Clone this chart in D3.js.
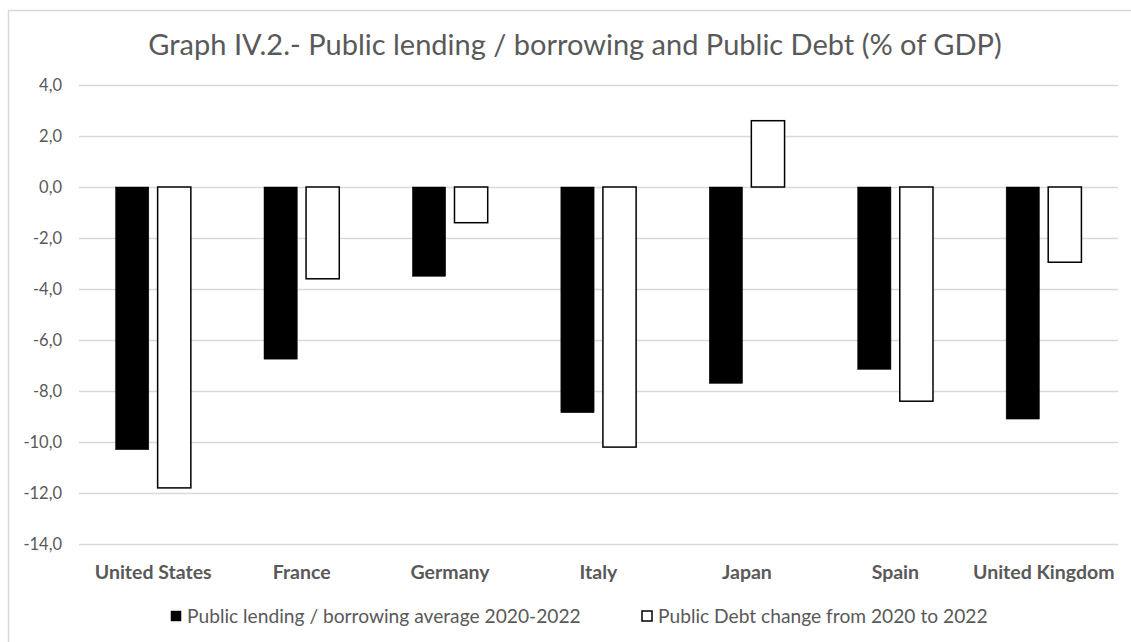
<!DOCTYPE html>
<html>
<head>
<meta charset="utf-8">
<script src="https://cdn.jsdelivr.net/npm/d3@7"></script>
<style>
  body { margin: 0; background: #fff; }
  svg { display: block; }
</style>
</head>
<body>
<svg width="1131" height="642"></svg>
<script>
// data
const countries = ["United States", "France", "Germany", "Italy", "Japan", "Spain", "United Kingdom"];
const seriesNames = ["Public lending / borrowing average 2020-2022", "Public Debt change from 2020 to 2022"];
const lending = [-10.3, -6.75, -3.5, -8.85, -7.7, -7.15, -9.1];
const debtChange = [-11.8, -3.6, -1.4, -10.2, 2.6, -8.4, -2.95];
const yTicks = [4, 2, 0, -2, -4, -6, -8, -10, -12, -14];

const svg = d3.select("svg");
const width = 1131, height = 642;
const grey = "#595959", gridCol = "#d9d9d9";

// outer frame of the chart area
svg.append("rect")
  .attr("x", 8.5).attr("y", 10.5)
  .attr("width", width).attr("height", height)
  .attr("fill", "none").attr("stroke", gridCol).attr("stroke-width", 1.5);

svg.append("text")
  .attr("x", 575).attr("y", 55)
  .attr("text-anchor", "middle")
  .attr("font-family", "Lato, 'Open Sans', sans-serif")
  .attr("font-size", "29px")
  .attr("fill", grey)
  .text("Graph IV.2.- Public lending / borrowing and Public Debt (% of GDP)");

const x = d3.scaleBand().domain(countries).range([79, 1118]).padding(0);
const xs = d3.scaleBand().domain(seriesNames).range([0, x.bandwidth()])
  .paddingInner(0.21).paddingOuter(0.87);
const y = d3.scaleLinear().domain([-14, 4]).range([544, 85]);

// gridlines + y labels
const yAxis = svg.append("g")
  .attr("transform", "translate(79,0)")
  .call(d3.axisLeft(y).tickValues(yTicks).tickSize(-(1118 - 79)).tickPadding(17)
    .tickFormat(d => d3.format(".1f")(d).replace(".", ",").replace("\u2212", "-")));
yAxis.select(".domain").remove();
yAxis.selectAll("line").attr("stroke", gridCol).attr("stroke-width", 1.5);
yAxis.selectAll("text")
  .attr("fill", grey)
  .attr("font-family", "Lato, sans-serif")
  .attr("font-size", "16.5px");

const rows = countries.map((c, i) => ({ country: c, vals: [lending[i], debtChange[i]] }));

const groups = svg.append("g").selectAll("g")
  .data(rows).enter().append("g")
  .attr("transform", d => "translate(" + x(d.country) + ",0)");

groups.selectAll("rect")
  .data(d => d.vals.map((v, j) => ({ key: seriesNames[j], v: v, j: j })))
  .enter().append("rect")
  .attr("x", d => xs(d.key))
  .attr("width", xs.bandwidth())
  .attr("y", d => y(Math.max(0, d.v)))
  .attr("height", d => Math.abs(y(d.v) - y(0)))
  .attr("fill", d => d.j === 0 ? "#000" : "#fff")
  .attr("stroke", "#000")
  .attr("stroke-width", d => d.j === 0 ? 0.5 : 1.5);

// category labels
svg.append("g").selectAll("text")
  .data(countries).enter().append("text")
  .attr("x", d => x(d) + x.bandwidth() / 2)
  .attr("y", 579)
  .attr("text-anchor", "middle")
  .attr("font-family", "Lato, sans-serif")
  .attr("font-weight", "bold")
  .attr("font-size", "19.5px")
  .attr("fill", grey)
  .text(d => d);

// legend
const legendX = [171, 642];
const legend = svg.append("g").selectAll("g")
  .data(seriesNames).enter().append("g")
  .attr("transform", (d, i) => "translate(" + legendX[i] + ",611)");
legend.append("rect")
  .attr("width", 10).attr("height", 10)
  .attr("fill", (d, i) => i === 0 ? "#000" : "#fff")
  .attr("stroke", "#000")
  .attr("stroke-width", (d, i) => i === 0 ? 0.5 : 1.5);
legend.append("text")
  .attr("x", 16).attr("y", 12)
  .attr("font-family", "Lato, sans-serif")
  .attr("font-size", "19.2px")
  .attr("fill", grey)
  .text(d => d);
</script>
</body>
</html>
